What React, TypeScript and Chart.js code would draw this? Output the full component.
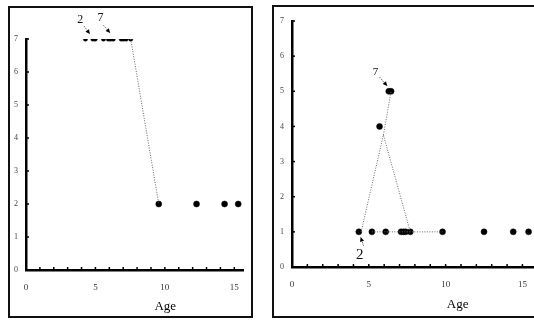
import React, { useEffect, useRef } from "react";
import { Chart, registerables } from "chart.js";

Chart.register(...registerables);

// ---- Data ----
const xTickValues = [0, 5, 10, 15];
const yTickValues = [0, 1, 2, 3, 4, 5, 6, 7];
const minorX = [1, 2, 3, 4, 5, 6, 7, 8, 9, 10, 11, 12, 13, 14, 15];
const minorY = [1, 2, 3, 4, 5, 6, 7];

// Left panel
const leftHighAges = [4.28, 4.82, 4.98, 5.58, 5.93, 6.09, 6.28, 6.86, 7.03, 7.21, 7.54];
const leftHighScores = [7, 7, 7, 7, 7, 7, 7, 7, 7, 7, 7];
const leftLowAges = [9.56, 12.28, 14.3, 15.28];
const leftLowScores = [2, 2, 2, 2];
const leftLinkAges = [7.54, 9.56];
const leftLinkScores = [7, 2];

// Right panel
const rightOneAges = [4.35, 5.2, 6.1, 7.1, 7.25, 7.4, 7.7, 9.8, 12.5, 14.4, 15.4];
const rightOneScores = [1, 1, 1, 1, 1, 1, 1, 1, 1, 1, 1];
const rightFiveAges = [6.3, 6.45];
const rightFiveScores = [5, 5];
const rightFourAges = [5.7];
const rightFourScores = [4];
const rightPeakAges = [4.5, 5.95, 7.7];
const rightPeakScores = [1, 3.76, 1];
const rightUpAges = [5.95, 6.45];
const rightUpScores = [3.76, 5];
const rightFlatAges = [5.2, 9.8];
const rightFlatScores = [1, 1];

// Annotations (label + arrow, in data units)
const leftNotes = [
  { text: "2", tx: 3.9, ty: 7.58, ax0: 4.18, ay0: 7.39, ax1: 4.6, ay1: 7.15 },
  { text: "7", tx: 5.36, ty: 7.64, ax0: 5.57, ay0: 7.42, ax1: 6.06, ay1: 7.18 },
];
const rightNotes = [
  { text: "7", tx: 5.43, ty: 5.55, ax0: 5.69, ay0: 5.41, ax1: 6.2, ay1: 5.15 },
  { text: "2", tx: 4.41, ty: 0.34, ax0: 4.66, ay0: 0.6, ax1: 4.47, ay1: 0.85 },
];

const xTitle = "Age";

const zip = (xs: number[], ys: number[]) => xs.map((x, i) => ({ x, y: ys[i] }));

function pointSet(xs: number[], ys: number[], r: number) {
  return {
    type: "scatter" as const,
    data: zip(xs, ys),
    showLine: false,
    pointRadius: r,
    pointBackgroundColor: "#000",
    pointBorderColor: "#000",
    pointBorderWidth: 0.5,
  };
}

function lineSet(xs: number[], ys: number[]) {
  return {
    type: "scatter" as const,
    data: zip(xs, ys),
    showLine: true,
    borderColor: "#666",
    borderWidth: 1,
    borderDash: [1, 1.5],
    pointRadius: 0,
    fill: false,
  };
}

function makePlugin(notes: typeof leftNotes, titleFrac: number, titleY: number, noteFont: number[]) {
  return {
    id: "decor",
    afterDraw(chart: any) {
      const ctx = chart.ctx;
      const xs = chart.scales.x;
      const ys = chart.scales.y;
      const area = chart.chartArea;
      ctx.save();
      ctx.strokeStyle = "#000";
      ctx.lineWidth = 1.5;
      minorY.forEach((v) => {
        const py = ys.getPixelForValue(v);
        ctx.beginPath();
        ctx.moveTo(area.left, py);
        ctx.lineTo(area.left + 3, py);
        ctx.stroke();
      });
      minorX.forEach((v) => {
        const px = xs.getPixelForValue(v);
        ctx.beginPath();
        ctx.moveTo(px, area.bottom);
        ctx.lineTo(px, area.bottom - 3);
        ctx.stroke();
      });
      // annotations
      notes.forEach((n, i) => {
        ctx.fillStyle = "#111";
        ctx.font = `${noteFont[i]}px "Liberation Serif", serif`;
        ctx.textAlign = "center";
        ctx.textBaseline = "middle";
        ctx.fillText(n.text, xs.getPixelForValue(n.tx), ys.getPixelForValue(n.ty));
        const x0 = xs.getPixelForValue(n.ax0);
        const y0 = ys.getPixelForValue(n.ay0);
        const x1 = xs.getPixelForValue(n.ax1);
        const y1 = ys.getPixelForValue(n.ay1);
        ctx.strokeStyle = "#444";
        ctx.lineWidth = 0.8;
        ctx.setLineDash([1.5, 1]);
        ctx.beginPath();
        ctx.moveTo(x0, y0);
        ctx.lineTo(x1, y1);
        ctx.stroke();
        ctx.setLineDash([]);
        const ang = Math.atan2(y1 - y0, x1 - x0);
        ctx.fillStyle = "#000";
        ctx.beginPath();
        ctx.moveTo(x1, y1);
        ctx.lineTo(x1 - 5 * Math.cos(ang - 0.45), y1 - 5 * Math.sin(ang - 0.45));
        ctx.lineTo(x1 - 5 * Math.cos(ang + 0.45), y1 - 5 * Math.sin(ang + 0.45));
        ctx.closePath();
        ctx.fill();
      });
      // axis title
      ctx.fillStyle = "#000";
      ctx.font = '13px "Liberation Serif", serif';
      ctx.textAlign = "center";
      ctx.textBaseline = "middle";
      ctx.fillText(xTitle, area.left + titleFrac * (area.right - area.left), titleY);
      ctx.restore();
    },
  };
}

function makeConfig(
  datasets: any[],
  xMax: number,
  topPad: number,
  yWidth: number,
  xHeight: number,
  plugin: any
) {
  return {
    type: "scatter" as const,
    data: { datasets },
    plugins: [plugin],
    options: {
      animation: false,
      responsive: false,
      maintainAspectRatio: false,
      layout: { padding: { top: topPad, left: 0, right: 0, bottom: 0 } },
      plugins: { legend: { display: false }, tooltip: { enabled: false } },
      scales: {
        x: {
          type: "linear",
          min: 0,
          max: xMax,
          grid: { display: false, drawTicks: false },
          border: { display: true, color: "#000", width: 2.5 },
          afterBuildTicks: (s: any) => {
            s.ticks = xTickValues.map((v) => ({ value: v }));
          },
          afterFit: (s: any) => {
            s.height = xHeight;
          },
          ticks: {
            padding: 12,
            color: "#333",
            font: { family: '"Liberation Serif", serif', size: 9 },
            maxRotation: 0,
          },
        },
        y: {
          type: "linear",
          min: 0,
          max: 7,
          grid: { display: false, drawTicks: false },
          border: { display: true, color: "#000", width: 2.5 },
          afterBuildTicks: (s: any) => {
            s.ticks = yTickValues.map((v) => ({ value: v }));
          },
          afterFit: (s: any) => {
            s.width = yWidth;
          },
          ticks: {
            padding: 8,
            color: "#444",
            font: { family: '"Liberation Serif", serif', size: 8 },
          },
        },
      },
    },
  };
}

export default function App() {
  const leftRef = useRef<HTMLCanvasElement>(null);
  const rightRef = useRef<HTMLCanvasElement>(null);

  useEffect(() => {
    const left = new Chart(
      leftRef.current as HTMLCanvasElement,
      makeConfig(
        [
          lineSet(leftLinkAges, leftLinkScores),
          pointSet(leftHighAges, leftHighScores, 2.2),
          pointSet(leftLowAges, leftLowScores, 3),
        ],
        15.67,
        31,
        16,
        46,
        makePlugin(leftNotes, 0.64, 299, [12, 12])
      ) as any
    );
    const right = new Chart(
      rightRef.current as HTMLCanvasElement,
      makeConfig(
        [
          lineSet(rightPeakAges, rightPeakScores),
          lineSet(rightUpAges, rightUpScores),
          lineSet(rightFlatAges, rightFlatScores),
          pointSet(rightOneAges, rightOneScores, 3),
          pointSet(rightFiveAges, rightFiveScores, 3),
          pointSet(rightFourAges, rightFourScores, 3),
        ],
        15.85,
        14,
        18,
        49,
        makePlugin(rightNotes, 0.68, 298, [11, 15])
      ) as any
    );
    return () => {
      left.destroy();
      right.destroy();
    };
  }, []);

  return (
    <div
      style={{
        position: "fixed",
        left: 0,
        top: 0,
        width: 534,
        height: 322,
        overflow: "hidden",
        background: "#fff",
      }}
    >
      <div
        style={{
          position: "absolute",
          left: 8,
          top: 6,
          width: 245,
          height: 312,
          border: "2px solid #111",
          boxSizing: "border-box",
        }}
      >
        <canvas ref={leftRef} width={241} height={308} style={{ display: "block", width: 241, height: 308 }} />
      </div>
      <div
        style={{
          position: "absolute",
          left: 272,
          top: 5,
          width: 270,
          height: 313,
          border: "2px solid #111",
          boxSizing: "border-box",
        }}
      >
        <canvas ref={rightRef} width={266} height={309} style={{ display: "block", width: 266, height: 309 }} />
      </div>
    </div>
  );
}
